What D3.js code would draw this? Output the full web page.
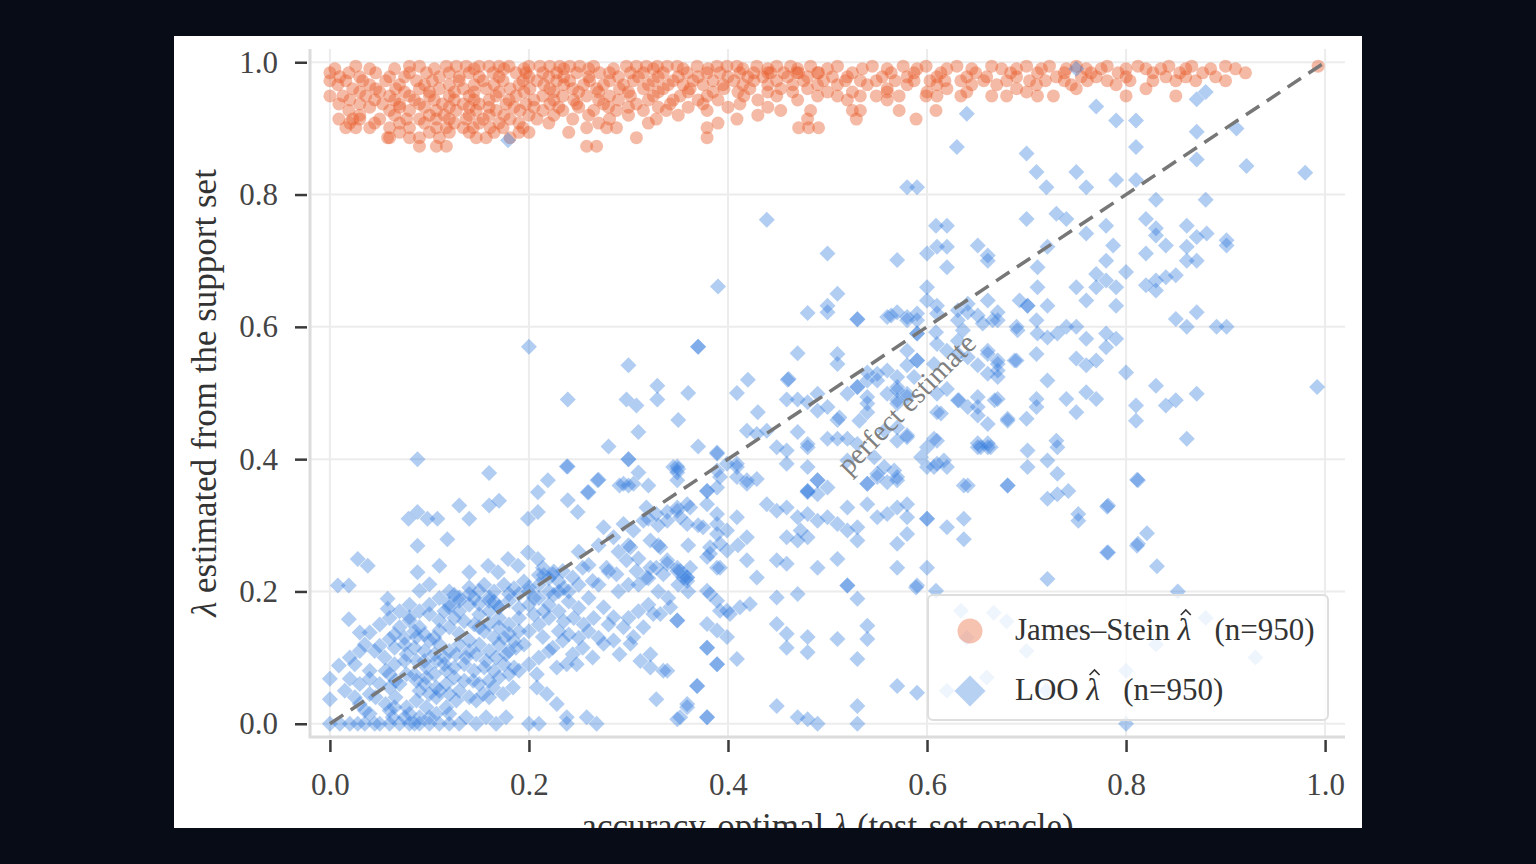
<!DOCTYPE html>
<html>
<head>
<meta charset="utf-8">
<script src="https://cdn.jsdelivr.net/npm/d3@7"></script>
<style>
  body { margin: 0; background: #070c16; }
  svg { display: block; }
  text { font-family: "Liberation Serif", "DejaVu Serif", serif; }
</style>
</head>
<body>
<svg id="chart"></svg>
<script>
const W = 1536;
const H = 864;

// tick values
const xTicks = [0.0, 0.2, 0.4, 0.6, 0.8, 1.0];
const yTicks = [0.0, 0.2, 0.4, 0.6, 0.8, 1.0];

// James–Stein estimates, grouped by (roughly) the same estimated value: [y, [x, x, ...]]
const jsRows = [
  [0.994, [0.026, 0.08, 0.09, 0.117, 0.127, 0.137, 0.15, 0.16, 0.17, 0.18, 0.2, 0.211, 0.221, 0.231, 0.241, 0.251, 0.265, 0.298, 0.308, 0.318, 0.329, 0.339, 0.349, 0.369, 0.389, 0.399, 0.409, 0.429, 0.449, 0.463, 0.483,
           0.51, 0.545, 0.576, 0.599, 0.63, 0.665, 0.7, 0.723, 0.75, 0.781, 0.812, 0.843, 0.866, 0.9, 0.993]],
  [0.990, [0.005, 0.04, 0.065, 0.105, 0.145, 0.175, 0.195, 0.235, 0.26, 0.285, 0.325, 0.355, 0.38, 0.415, 0.44, 0.47, 0.5, 0.535, 0.56, 0.59, 0.62, 0.645, 0.675, 0.69, 0.715, 0.74, 0.76, 0.775, 0.8, 0.82, 0.835, 0.86, 0.885, 0.91]],
  [0.984, [0.0, 0.019, 0.046, 0.08, 0.097, 0.12, 0.14, 0.164, 0.187, 0.197, 0.214, 0.228, 0.248, 0.271, 0.281, 0.302, 0.315, 0.335, 0.359, 0.379, 0.392, 0.412, 0.426, 0.443, 0.469, 0.49,
           0.44, 0.456, 0.471, 0.491, 0.525, 0.564, 0.587, 0.614, 0.649, 0.684, 0.711, 0.738, 0.765, 0.792, 0.827, 0.854, 0.877, 0.92]],
  [0.978, [0.01, 0.03, 0.06, 0.075, 0.11, 0.13, 0.15, 0.17, 0.2, 0.22, 0.235, 0.26, 0.29, 0.31, 0.33, 0.35, 0.37, 0.4, 0.42, 0.435, 0.46, 0.48, 0.505, 0.52, 0.555, 0.58, 0.61, 0.64, 0.66, 0.69, 0.73, 0.755, 0.77, 0.8, 0.84, 0.86, 0.89]],
  [0.972, [0.0, 0.016, 0.033, 0.056, 0.087, 0.103, 0.13, 0.154, 0.174, 0.194, 0.208, 0.228, 0.241, 0.261, 0.281, 0.305, 0.325, 0.345, 0.365, 0.385, 0.406, 0.426, 0.449, 0.476, 0.496,
           0.518, 0.533, 0.549, 0.568, 0.587, 0.603, 0.618, 0.634, 0.657, 0.68, 0.703, 0.719, 0.738, 0.761, 0.781, 0.804, 0.827, 0.85, 0.87, 0.9]],
  [0.966, [0.008, 0.04, 0.07, 0.095, 0.12, 0.145, 0.165, 0.19, 0.215, 0.235, 0.255, 0.275, 0.295, 0.32, 0.34, 0.355, 0.375, 0.395, 0.415, 0.44, 0.465, 0.49, 0.51, 0.54, 0.58, 0.61, 0.645, 0.67, 0.71, 0.745, 0.79]],
  [0.960, [0.023, 0.046, 0.066, 0.09, 0.11, 0.134, 0.157, 0.181, 0.201, 0.221, 0.244, 0.268, 0.291, 0.315, 0.335, 0.362, 0.396, 0.422, 0.453, 0.48,
           0.56, 0.62, 0.69, 0.75, 0.82]],
  [0.955, [0.03, 0.05, 0.075, 0.1, 0.125, 0.145, 0.17, 0.195, 0.225, 0.25, 0.27, 0.3, 0.33, 0.36, 0.385, 0.41, 0.44, 0.465, 0.5, 0.525, 0.56, 0.6, 0.64, 0.7]],
  [0.949, [0.0, 0.013, 0.036, 0.06, 0.08, 0.1, 0.12, 0.14, 0.167, 0.187, 0.214, 0.234, 0.258, 0.281, 0.302, 0.325, 0.352, 0.379, 0.416, 0.449, 0.49,
           0.51, 0.533, 0.549, 0.572, 0.599, 0.61, 0.634, 0.665, 0.68, 0.711, 0.727, 0.8, 0.85]],
  [0.943, [0.02, 0.045, 0.065, 0.085, 0.105, 0.125, 0.145, 0.16, 0.18, 0.205, 0.225, 0.245, 0.27, 0.29, 0.32, 0.345, 0.37, 0.39, 0.43, 0.47, 0.52, 0.56]],
  [0.937, [0.009, 0.03, 0.053, 0.07, 0.09, 0.113, 0.134, 0.15, 0.177, 0.197, 0.221, 0.248, 0.275, 0.308, 0.342, 0.375, 0.412]],
  [0.932, [0.04, 0.07, 0.095, 0.12, 0.14, 0.16, 0.185, 0.205, 0.23, 0.25, 0.28, 0.3, 0.33, 0.36, 0.4, 0.44]],
  [0.927, [0.019, 0.06, 0.08, 0.107, 0.127, 0.147, 0.167, 0.191, 0.214, 0.234, 0.265, 0.288, 0.315, 0.338, 0.379, 0.453, 0.483,
           0.525, 0.533, 0.572, 0.609]],
  [0.920, [0.03, 0.065, 0.1, 0.115, 0.14, 0.16, 0.175, 0.2, 0.225, 0.26, 0.3, 0.35, 0.43]],
  [0.914, [0.009, 0.023, 0.03, 0.05, 0.077, 0.09, 0.107, 0.12, 0.137, 0.154, 0.181, 0.208, 0.244, 0.281, 0.328, 0.409, 0.48,
           0.529, 0.589]],
  [0.908, [0.02, 0.045, 0.07, 0.095, 0.125, 0.15, 0.17, 0.19, 0.22, 0.27, 0.32, 0.39]],
  [0.901, [0.016, 0.026, 0.04, 0.06, 0.08, 0.107, 0.117, 0.134, 0.144, 0.161, 0.174, 0.194, 0.258, 0.278, 0.288, 0.379, 0.471, 0.481, 0.491]],
  [0.894, [0.07, 0.1, 0.12, 0.14, 0.165, 0.19, 0.2, 0.24]],
  [0.886, [0.058, 0.06, 0.08, 0.09, 0.11, 0.147, 0.157, 0.181, 0.308, 0.379]],
  [0.873, [0.09, 0.107, 0.117, 0.258, 0.268]]
];

// leave-one-out estimates: [oracle λ, estimated λ]
const looPoints = [
  // upper right
  [0.64,0.922],[0.63,0.872],[0.77,0.933],[0.79,0.912],[0.81,0.912],[0.81,0.872],[0.871,0.944],[0.871,0.895],[0.871,0.853],[0.911,0.90],
  [0.921,0.843],[0.98,0.833],[0.70,0.862],[0.71,0.834],[0.72,0.811],[0.75,0.834],[0.76,0.811],[0.79,0.822],[0.81,0.822],[0.58,0.811],
  [0.59,0.811],[0.83,0.792],[0.88,0.792],[0.70,0.763],[0.73,0.771],[0.74,0.763],[0.76,0.741],[0.78,0.753],[0.787,0.723],[0.78,0.70],
  [0.82,0.763],[0.83,0.749],[0.83,0.738],[0.84,0.723],[0.82,0.711],[0.861,0.753],[0.871,0.736],[0.881,0.741],[0.861,0.721],[0.861,0.70],
  [0.871,0.70],[0.901,0.731],[0.901,0.723],[0.609,0.753],[0.62,0.753],[0.60,0.711],[0.61,0.721],[0.62,0.721],[0.62,0.69],[0.651,0.723],
  [0.661,0.708],[0.661,0.70],[0.711,0.69],[0.721,0.721],[0.711,0.66],[0.75,0.66],[0.76,0.64],[0.77,0.68],[0.78,0.67],[0.79,0.66],
  [0.77,0.66],[0.80,0.683],[0.79,0.632],[0.82,0.663],[0.83,0.655],[0.84,0.675],[0.85,0.678],[0.83,0.67],[0.60,0.66],[0.60,0.64],
  [0.61,0.632],[0.641,0.635],[0.641,0.622],[0.661,0.64],[0.671,0.622],[0.693,0.64],[0.701,0.632],[0.701,0.632],[0.721,0.632],[0.58,0.61],
  [0.59,0.61],[0.59,0.59],[0.59,0.59],[0.609,0.592],[0.631,0.61],[0.636,0.595],[0.656,0.605],[0.666,0.61],[0.69,0.60],[0.71,0.61],
  [0.711,0.59],[0.721,0.584],[0.731,0.59],[0.74,0.60],[0.75,0.60],[0.76,0.582],[0.78,0.59],[0.79,0.582],[0.78,0.569],[0.85,0.612],
  [0.861,0.60],[0.871,0.622],[0.891,0.60],[0.901,0.60],[0.992,0.509],[0.58,0.564],[0.59,0.549],[0.607,0.544],[0.631,0.559],[0.651,0.542],
  [0.661,0.564],[0.671,0.549],[0.671,0.534],[0.69,0.549],[0.71,0.559],[0.75,0.552],[0.76,0.542],[0.77,0.549],[0.80,0.531],[0.721,0.519],
  [0.83,0.511],[0.871,0.499],[0.84,0.481],[0.85,0.489],[0.76,0.501],[0.77,0.491],[0.74,0.491],[0.75,0.471],[0.81,0.481],[0.81,0.458],
  [0.71,0.491],[0.71,0.479],[0.70,0.461],[0.671,0.491],[0.681,0.461],[0.651,0.479],[0.651,0.466],[0.661,0.453],[0.632,0.489],[0.61,0.471],
  [0.861,0.431],[0.73,0.428],[0.607,0.431],[0.651,0.424],[0.661,0.424],[0.88,0.955],[0.75,0.99],[0.179,0.882],
  [0.811,0.369],[0.781,0.328],[0.781,0.259],[0.811,0.269],[0.821,0.288],[0.831,0.238],[0.852,0.20],
  // middle band
  [0.439,0.762],[0.50,0.711],[0.57,0.701],[0.51,0.65],[0.50,0.632],[0.50,0.622],[0.48,0.621],[0.53,0.611],[0.56,0.615],[0.57,0.622],
  [0.58,0.615],[0.59,0.62],[0.39,0.661],[0.37,0.57],[0.37,0.57],[0.30,0.542],[0.239,0.49],[0.298,0.49],[0.308,0.481],[0.329,0.511],
  [0.329,0.49],[0.36,0.50],[0.35,0.459],[0.31,0.441],[0.28,0.419],[0.37,0.419],[0.30,0.40],[0.30,0.40],[0.239,0.389],[0.31,0.38],
  [0.27,0.369],[0.291,0.36],[0.30,0.36],[0.32,0.36],[0.26,0.35],[0.35,0.385],[0.47,0.56],[0.42,0.52],[0.46,0.52],[0.409,0.50],
  [0.51,0.559],[0.51,0.544],[0.459,0.49],[0.47,0.49],[0.48,0.486],[0.49,0.499],[0.50,0.479],[0.43,0.471],[0.51,0.459],[0.52,0.499],
  [0.53,0.509],[0.54,0.519],[0.55,0.529],[0.54,0.484],[0.54,0.471],[0.56,0.499],[0.57,0.509],[0.58,0.499],[0.57,0.484],[0.57,0.448],
  [0.58,0.433],[0.419,0.443],[0.429,0.438],[0.439,0.443],[0.449,0.418],[0.459,0.413],[0.47,0.441],[0.48,0.418],[0.50,0.431],[0.51,0.431],
  [0.52,0.431],[0.53,0.423],[0.389,0.41],[0.399,0.393],[0.409,0.388],[0.419,0.368],[0.429,0.37],[0.459,0.393],[0.48,0.388],[0.49,0.368],
  [0.48,0.35],[0.54,0.363],[0.55,0.378],[0.57,0.373],[0.379,0.352],[0.389,0.357],[0.52,0.398],[0.20,0.57],
  [0.53,0.612],[0.564,0.617],[0.461,0.521],[0.49,0.473],[0.54,0.531],[0.55,0.519],[0.53,0.509],[0.54,0.494],[0.56,0.534],[0.57,0.524],
  [0.58,0.542],[0.59,0.549],[0.587,0.524],[0.57,0.504],[0.57,0.489],[0.58,0.494],[0.61,0.499],[0.62,0.506],[0.631,0.489],[0.641,0.479],
  [0.651,0.494],[0.661,0.559],[0.671,0.544],[0.661,0.529],[0.671,0.524],[0.61,0.574],[0.62,0.564],[0.631,0.579],[0.641,0.554],[0.61,0.62],
  [0.631,0.625],[0.651,0.617],[0.671,0.61],[0.691,0.595],[0.688,0.549],[0.614,0.469],[0.61,0.428],[0.651,0.418],[0.661,0.418],[0.681,0.458],
  [0.668,0.489],[0.512,0.463],[0.532,0.458],[0.557,0.443],[0.57,0.428],[0.58,0.436],[0.547,0.403],[0.557,0.388],[0.567,0.383],[0.594,0.403],
  [0.607,0.388],[0.617,0.398],[0.641,0.36],[0.681,0.36],[0.48,0.352],[0.49,0.347],[0.48,0.423],
  // lower left, sparse edge
  [0.088,0.40],[0.16,0.379],[0.238,0.389],[0.219,0.368],[0.209,0.35],[0.259,0.35],[0.269,0.368],[0.239,0.338],[0.249,0.32],[0.349,0.389],
  [0.349,0.38],[0.13,0.33],[0.14,0.31],[0.16,0.33],[0.17,0.337],[0.079,0.31],[0.088,0.32],[0.098,0.31],[0.108,0.31],[0.118,0.279],
  [0.088,0.269],[0.199,0.31],[0.209,0.32],[0.028,0.249],[0.038,0.239],[0.088,0.229],[0.11,0.239],[0.14,0.229],[0.159,0.239],[0.169,0.229],
  [0.179,0.249],[0.189,0.239],[0.199,0.259],[0.209,0.249],[0.008,0.209],[0.019,0.209],[0.058,0.189],[0.058,0.174],[0.019,0.158],[0.03,0.138],
  [0.04,0.138],[0.05,0.118],[0.06,0.128],[0.009,0.088],[0.0,0.068],[0.0,0.037],[0.0,0.0],[0.02,0.0],[0.028,0.0],[0.05,0.0],
  [0.06,0.0],[0.08,0.0],[0.09,0.0],[0.02,0.068],[0.04,0.068],[0.03,0.03],[0.04,0.045],[0.06,0.075],[0.07,0.06],[0.06,0.055],
  // lower left, dense core
  [0.08,0.161],[0.09,0.146],[0.10,0.166],[0.11,0.156],[0.12,0.176],[0.13,0.186],[0.14,0.196],[0.15,0.181],[0.16,0.191],[0.17,0.176],
  [0.18,0.186],[0.19,0.196],[0.20,0.206],[0.214,0.236],[0.224,0.226],[0.234,0.231],[0.244,0.221],[0.254,0.236],[0.264,0.216],
  [0.275,0.297],[0.285,0.282],[0.295,0.302],[0.305,0.292],[0.315,0.307],[0.318,0.327],[0.328,0.317],[0.339,0.307],[0.349,0.322],[0.359,0.332],
  [0.278,0.236],[0.288,0.226],[0.298,0.247],[0.308,0.231],[0.318,0.221],[0.328,0.236],[0.339,0.247],[0.349,0.231],[0.359,0.216],
  [0.379,0.201],[0.389,0.186],[0.399,0.171],[0.275,0.176],[0.285,0.161],[0.295,0.146],[0.305,0.131],[0.315,0.146],[0.325,0.166],
  [0.349,0.156],[0.379,0.115],[0.389,0.09],[0.369,0.057],[0.328,0.037],[0.359,0.025],[0.349,0.007],[0.379,0.01],
  [0.214,0.131],[0.224,0.115],[0.234,0.126],[0.244,0.105],[0.254,0.115],[0.264,0.10],[0.275,0.121],[0.285,0.126],[0.228,0.085],[0.238,0.09],
  [0.248,0.09],[0.208,0.075],[0.208,0.055],[0.218,0.045],[0.228,0.03],[0.20,0.0],[0.21,0.0],[0.238,0.01],[0.238,0.0],[0.258,0.01],
  [0.268,0.0],[0.291,0.105],[0.302,0.121],[0.312,0.095],[0.322,0.105],[0.335,0.08],[0.322,0.085],
  [0.09,0.201],[0.10,0.211],[0.12,0.181],[0.13,0.191],[0.14,0.206],[0.15,0.201],[0.16,0.186],[0.17,0.176],[0.18,0.196],[0.08,0.156],
  [0.07,0.146],[0.087,0.131],[0.10,0.126],[0.11,0.141],[0.12,0.146],[0.13,0.136],[0.14,0.126],[0.15,0.146],[0.16,0.151],[0.17,0.146],
  [0.18,0.136],[0.187,0.115],[0.127,0.105],[0.137,0.10],[0.147,0.105],[0.157,0.095],[0.167,0.10],[0.177,0.105],[0.077,0.105],[0.087,0.095],
  [0.097,0.085],[0.107,0.095],[0.117,0.08],[0.056,0.08],[0.066,0.065],[0.077,0.075],[0.087,0.065],[0.097,0.07],[0.107,0.055],[0.117,0.06],
  [0.046,0.04],[0.056,0.03],[0.066,0.04],[0.077,0.025],[0.087,0.035],[0.097,0.025],[0.107,0.04],[0.117,0.025],[0.127,0.035],[0.08,0.015],
  [0.09,0.01],[0.107,0.015],[0.063,0.01],[0.144,0.065],[0.154,0.045],[0.164,0.055],[0.174,0.045],[0.184,0.055],[0.147,0.035],[0.16,0.04],
  [0.137,0.01],[0.147,0.0],[0.157,0.01],[0.167,0.0],[0.177,0.01],
  [0.11,0.12],[0.12,0.11],[0.13,0.12],[0.14,0.11],[0.15,0.12],[0.16,0.11],[0.17,0.12],[0.18,0.11],[0.115,0.09],[0.125,0.085],
  [0.135,0.09],[0.145,0.08],[0.155,0.085],[0.165,0.08],[0.175,0.09],[0.185,0.085],[0.17,0.16],[0.18,0.15],[0.19,0.16],[0.175,0.13],
  [0.185,0.125],[0.19,0.14],[0.13,0.17],[0.14,0.18],[0.15,0.165],[0.16,0.17],[0.165,0.185],[0.145,0.15],
  [0.2,0.2],[0.21,0.21],[0.22,0.2],[0.23,0.215],[0.215,0.225],[0.225,0.23],[0.205,0.19],[0.235,0.205],[0.24,0.2],[0.25,0.21],
  [0.22,0.18],[0.23,0.17],[0.24,0.185],[0.25,0.175],[0.26,0.19],[0.245,0.16],[0.235,0.155],[0.255,0.15],
  [0.045,0.11],[0.055,0.1],[0.065,0.115],[0.075,0.12],[0.085,0.115],[0.095,0.11],[0.065,0.09],[0.075,0.095],[0.085,0.075],[0.095,0.06],
  [0.05,0.06],[0.04,0.08],[0.03,0.06],[0.025,0.09],[0.01,0.0],[0.035,0.0],[0.07,0.0],[0.1,0.0],[0.11,0.0],[0.12,0.0],
  [0.13,0.0],[0.04,0.015],[0.06,0.02],[0.1,0.01],[0.12,0.015],
  [0.05,0.15],[0.06,0.16],[0.07,0.17],[0.08,0.18],[0.09,0.17],[0.1,0.18],[0.11,0.19],[0.12,0.2],[0.125,0.16],[0.135,0.155],
  [0.155,0.14],[0.165,0.13],[0.105,0.13],[0.095,0.135],[0.085,0.14],[0.075,0.13],[0.065,0.135],[0.115,0.1],[0.105,0.105],[0.095,0.095],
  [0.135,0.065],[0.125,0.07],[0.105,0.075],[0.09,0.05],[0.1,0.045],[0.11,0.05],[0.12,0.045],[0.13,0.05],[0.14,0.04],[0.15,0.06],
  [0.16,0.065],[0.17,0.07],[0.18,0.075],[0.19,0.08],[0.2,0.09],[0.21,0.1],[0.22,0.11],[0.195,0.12],[0.2,0.14],[0.21,0.15],
  [0.22,0.16],[0.23,0.14],[0.24,0.135],[0.215,0.17],[0.205,0.165],[0.19,0.175],[0.2,0.18],[0.21,0.19],[0.225,0.195],[0.23,0.2],
  [0.22,0.22],[0.21,0.225],[0.195,0.215],[0.185,0.205],[0.175,0.21],[0.165,0.2],[0.155,0.21],[0.145,0.19],[0.125,0.195],[0.115,0.17],
  [0.035,0.02],[0.045,0.0],[0.075,0.01],[0.085,0.0],[0.065,0.025],[0.025,0.04],[0.015,0.05],[0.02,0.1],[0.03,0.11],[0.035,0.12],
  [0.26,0.14],[0.27,0.13],[0.265,0.16],[0.28,0.15],[0.25,0.13],[0.3,0.16],[0.31,0.17],[0.32,0.18],[0.33,0.2],[0.34,0.19],
  [0.35,0.21],[0.36,0.2],[0.31,0.21],[0.32,0.22],[0.29,0.2],[0.3,0.21],[0.27,0.21],[0.28,0.23],[0.26,0.24],[0.25,0.26],
  [0.27,0.27],[0.29,0.26],[0.3,0.27],[0.31,0.25],[0.33,0.27],[0.36,0.27],[0.37,0.3],[0.33,0.3],[0.32,0.31],[0.41,0.27],
  [0.295,0.363],[0.305,0.363],[0.349,0.327],[0.359,0.302],[0.375,0.297],[0.389,0.287],[0.392,0.272],[0.382,0.257],[0.392,0.236],[0.302,0.267],
  [0.322,0.277],[0.332,0.267],[0.322,0.236],[0.335,0.226],[0.349,0.236],[0.355,0.221],
  // lower middle
  [0.389,0.408],[0.389,0.383],[0.392,0.373],[0.409,0.393],[0.419,0.363],[0.409,0.373],[0.345,0.388],[0.349,0.368],[0.379,0.352],[0.379,0.332],
  [0.362,0.327],[0.352,0.312],[0.339,0.32],[0.389,0.302],[0.399,0.292],[0.389,0.317],[0.409,0.312],[0.419,0.282],[0.399,0.262],[0.382,0.267],
  [0.379,0.252],[0.389,0.236],[0.339,0.242],[0.352,0.231],[0.362,0.236],[0.359,0.221],[0.359,0.221],[0.419,0.247],[0.429,0.221],
  [0.439,0.332],[0.449,0.322],[0.459,0.327],[0.47,0.312],[0.48,0.317],[0.49,0.307],[0.50,0.312],[0.51,0.302],[0.459,0.282],[0.47,0.277],
  [0.48,0.282],[0.473,0.292],[0.48,0.352],[0.49,0.368],[0.50,0.357],[0.52,0.327],[0.53,0.297],[0.53,0.277],[0.52,0.292],
  [0.54,0.363],[0.55,0.373],[0.56,0.365],[0.57,0.368],[0.54,0.332],[0.55,0.312],[0.56,0.317],[0.57,0.327],[0.58,0.332],[0.58,0.312],
  [0.60,0.418],[0.61,0.393],[0.62,0.388],[0.60,0.388],[0.654,0.418],[0.664,0.418],[0.701,0.413],[0.701,0.388],[0.721,0.398],[0.731,0.418],
  [0.731,0.378],[0.637,0.36],[0.681,0.36],[0.721,0.34],[0.731,0.347],[0.742,0.352],[0.752,0.317],[0.752,0.307],[0.782,0.33],[0.782,0.259],
  [0.721,0.219],[0.60,0.31],[0.60,0.31],[0.62,0.297],[0.637,0.31],[0.637,0.279],[0.60,0.236],[0.59,0.209],[0.57,0.236],[0.57,0.272],
  [0.58,0.287],[0.52,0.209],[0.52,0.209],[0.53,0.189],[0.51,0.249],[0.49,0.236],[0.449,0.247],[0.459,0.242],
  [0.47,0.196],[0.449,0.191],[0.382,0.196],[0.392,0.171],[0.402,0.166],[0.412,0.176],[0.422,0.181],[0.379,0.151],[0.389,0.141],[0.399,0.131],
  [0.379,0.115],[0.389,0.09],[0.409,0.098],[0.349,0.156],[0.332,0.166],[0.342,0.176],[0.449,0.151],[0.459,0.136],[0.459,0.115],[0.48,0.131],
  [0.48,0.108],[0.51,0.128],[0.53,0.098],[0.54,0.148],[0.54,0.128],[0.339,0.08],[0.369,0.057],[0.359,0.03],[0.352,0.01],[0.379,0.01],
  [0.449,0.027],[0.47,0.01],[0.48,0.007],[0.49,0.0],[0.53,0.027],[0.53,0.0],[0.57,0.057],[0.59,0.047],[0.80,0.0],[0.812,0.368],
  [0.812,0.272],[0.589,0.206],[0.609,0.201],
  // behind the legend
  [0.634,0.171],[0.667,0.168],[0.68,0.155],[0.7,0.11],[0.75,0.14],[0.64,0.13],[0.62,0.05],[0.66,0.07],[0.83,0.12],[0.88,0.16],
  [0.72,0.05],[0.8,0.08],[0.93,0.1]
];

const x = d3.scaleLinear().domain([-0.02, 1.02]).range([310, 1345]);
const y = d3.scaleLinear().domain([-0.02, 1.02]).range([737, 49]);

const svg = d3.select("#chart").attr("width", W).attr("height", H);

svg.append("rect").attr("width", W).attr("height", H).attr("fill", "#070c16");

svg.append("clipPath").attr("id", "card")
  .append("rect").attr("x", 174).attr("y", 36).attr("width", 1188).attr("height", 792);

const card = svg.append("g").attr("clip-path", "url(#card)");
card.append("rect").attr("x", 174).attr("y", 36).attr("width", 1188).attr("height", 792).attr("fill", "#ffffff");

// grid
card.append("g").selectAll("line.vg").data(xTicks).join("line")
  .attr("x1", d => x(d)).attr("x2", d => x(d))
  .attr("y1", y.range()[1]).attr("y2", y.range()[0])
  .attr("stroke", "#ececec").attr("stroke-width", 2);
card.append("g").selectAll("line.hg").data(yTicks).join("line")
  .attr("y1", d => y(d)).attr("y2", d => y(d))
  .attr("x1", x.range()[0]).attr("x2", x.range()[1])
  .attr("stroke", "#ececec").attr("stroke-width", 2);

// spines
card.append("line").attr("x1", 310).attr("x2", 310).attr("y1", 49).attr("y2", 738)
  .attr("stroke", "#dcdcdc").attr("stroke-width", 3);
card.append("line").attr("x1", 309).attr("x2", 1345).attr("y1", 737).attr("y2", 737)
  .attr("stroke", "#dcdcdc").attr("stroke-width", 3);

// axes
const fmt = d3.format(".1f");
const xAxis = card.append("g").attr("transform", "translate(0,737)")
  .call(d3.axisBottom(x).tickValues(xTicks).tickFormat(fmt).tickSize(15).tickPadding(21));
const yAxis = card.append("g").attr("transform", "translate(310,0)")
  .call(d3.axisLeft(y).tickValues(yTicks).tickFormat(fmt).tickSize(15).tickPadding(17));
[xAxis, yAxis].forEach(a => {
  a.select(".domain").remove();
  a.selectAll(".tick line").attr("stroke", "#3a3a3a").attr("stroke-width", 2.5);
  a.selectAll(".tick text").attr("fill", "#444").attr("font-size", 31)
    .attr("font-family", '"Liberation Serif", serif');
});
xAxis.selectAll(".tick line").attr("y1", 3);
yAxis.selectAll(".tick line").attr("x1", -3).attr("x2", -15);

// James–Stein points
const jsPoints = jsRows.flatMap(([yv, xs]) => xs.map(xv => [xv, yv]));
card.append("g").selectAll("circle").data(jsPoints).join("circle")
  .attr("cx", d => x(d[0])).attr("cy", d => y(d[1])).attr("r", 6.5)
  .attr("fill", "#e85a28").attr("fill-opacity", 0.42);

// LOO points (diamonds)
const diamond = d3.symbol(d3.symbolSquare, 128);
card.append("g").selectAll("path").data(looPoints).join("path")
  .attr("d", diamond)
  .attr("transform", d => `translate(${x(d[0])},${y(d[1])}) rotate(45)`)
  .attr("fill", "#2c78dc").attr("fill-opacity", 0.37);

// perfect estimate line
card.append("line")
  .attr("x1", x(0)).attr("y1", y(0)).attr("x2", x(1)).attr("y2", y(1))
  .attr("stroke", "#777").attr("stroke-width", 3.5).attr("stroke-dasharray", "16,9");

card.append("text")
  .attr("transform", `translate(${x(0.579)},${y(0.484)}) rotate(-45.5)`)
  .attr("text-anchor", "middle").attr("dominant-baseline", "central")
  .attr("font-size", 29).attr("fill", "#808080")
  .text("perfect estimate");

// axis labels
const xLab = card.append("text")
  .attr("x", (x.range()[0] + x.range()[1]) / 2).attr("y", 838)
  .attr("text-anchor", "middle").attr("font-size", 35).attr("fill", "#333");
xLab.append("tspan").text("accuracy-optimal ");
xLab.append("tspan").attr("font-style", "italic").text("λ");
xLab.append("tspan").text(" (test-set oracle)");

const yLab = card.append("text")
  .attr("transform", `translate(216,${(y.range()[0] + y.range()[1]) / 2}) rotate(-90)`)
  .attr("text-anchor", "middle").attr("font-size", 35).attr("fill", "#333");
yLab.append("tspan").attr("font-style", "italic").text("λ");
yLab.append("tspan").text(" estimated from the support set");

// legend
const lg = card.append("g").attr("transform", "translate(928,595)");
lg.append("rect").attr("width", 400).attr("height", 125).attr("rx", 5)
  .attr("fill", "#fff").attr("fill-opacity", 0.8)
  .attr("stroke", "#dedede").attr("stroke-width", 2);
lg.append("circle").attr("cx", 42).attr("cy", 36).attr("r", 12.5)
  .attr("fill", "#e85a28").attr("fill-opacity", 0.36);
lg.append("path").attr("d", d3.symbol(d3.symbolSquare, 480))
  .attr("transform", "translate(42,96) rotate(45)")
  .attr("fill", "#2c78dc").attr("fill-opacity", 0.34);

const legendItems = [
  { name: "James–Stein\u00a0", y: 45 },
  { name: "LOO\u00a0", y: 105 }
];
legendItems.forEach(it => {
  const t = lg.append("text").attr("x", 87).attr("y", it.y)
    .attr("font-size", 31).attr("fill", "#333");
  t.append("tspan").text(it.name);
  t.append("tspan").attr("font-style", "italic").text("λ");
  t.append("tspan").text("\u00a0\u00a0\u00a0(n=950)");
  // hat over the λ
  const ext = t.node().getExtentOfChar(it.name.length);
  const cx = ext.x + ext.width * 0.6;
  lg.append("path")
    .attr("d", `M${cx - 5},${it.y - 25} L${cx},${it.y - 30} L${cx + 5},${it.y - 25}`)
    .attr("fill", "none").attr("stroke", "#333").attr("stroke-width", 1.6);
});
</script>
</body>
</html>
